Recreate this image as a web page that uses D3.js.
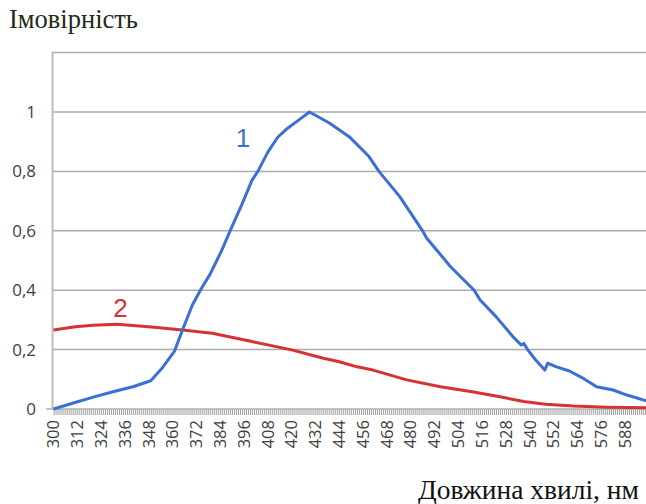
<!DOCTYPE html>
<html>
<head>
<meta charset="utf-8">
<script src="https://cdn.jsdelivr.net/npm/d3@7"></script>
<style>
  body { margin: 0; background: #fff; }
  .ylab, .xlab { font-family: "Open Sans", sans-serif; fill: #404040; }
  .serif { font-family: "Liberation Serif", "Times New Roman", serif; }
</style>
</head>
<body>
<svg id="chart" width="646" height="504"></svg>
<script>
// curve 1 (blue)
var blueNm  = [300, 310, 320, 330, 340, 349, 355, 361, 365, 370, 374, 379, 384.5, 389, 395, 400, 403, 408, 413, 417, 423, 429,
               439, 449, 459, 464, 474.5, 486, 488, 500, 512, 515, 523, 531.6, 535.8, 537, 539, 543, 547.6, 549, 553.5, 560, 567, 573.7, 582, 589, 599];
var blueVal = [0, 0.02, 0.04, 0.058, 0.075, 0.095, 0.14, 0.195, 0.266, 0.35, 0.40, 0.455, 0.53, 0.60, 0.69, 0.77, 0.80, 0.865, 0.915, 0.94, 0.97, 1.0,
               0.963, 0.917, 0.85, 0.80, 0.715, 0.60, 0.576, 0.48, 0.40, 0.367, 0.311, 0.243, 0.215, 0.221, 0.199, 0.165, 0.131, 0.154, 0.142, 0.128, 0.103, 0.075, 0.064, 0.047, 0.027];
// curve 2 (red)
var redNm  = [300, 311, 320, 332, 348, 365, 380, 400, 420, 436, 444, 453, 461, 478, 495, 511, 525, 537, 548, 562, 579, 599];
var redVal = [0.266, 0.277, 0.282, 0.285, 0.277, 0.266, 0.255, 0.227, 0.199, 0.171, 0.159, 0.142, 0.131, 0.098, 0.075, 0.058, 0.041, 0.025, 0.016, 0.01, 0.006, 0.004];

var yTicks = [0, 0.2, 0.4, 0.6, 0.8, 1];
var xLabelTicks = d3.range(300, 600, 12);
var xMinorTicks = d3.range(300, 600, 1);

var svg = d3.select("#chart");
var x = d3.scaleLinear().domain([300, 600]).range([53.5, 648.8]);
var y = d3.scaleLinear().domain([0, 1.2]).range([409, 52.6]);
var fmt = function(d){ return String(d).replace(".", ","); };

// gridlines (incl. top border at 1.2)
svg.append("g").selectAll("line")
    .data(yTicks.slice(1).concat([1.2]))
    .enter().append("line")
    .attr("x1", 52).attr("x2", 646)
    .attr("y1", function(d){ return y(d); })
    .attr("y2", function(d){ return y(d); })
    .attr("stroke", "#ababab")
    .attr("stroke-width", 1.5);

// left axis line
svg.append("line")
    .attr("x1", 52.5).attr("x2", 52.5)
    .attr("y1", y(1.2)).attr("y2", y(0))
    .attr("stroke", "#bdbdbd").attr("stroke-width", 2);

// bottom axis with dense ticks
var xAxis = d3.axisBottom(x).tickValues(xMinorTicks).tickSize(6).tickFormat("");
var gx = svg.append("g").attr("transform", "translate(0," + y(0) + ")").call(xAxis);
gx.select(".domain").remove();
gx.selectAll(".tick line").attr("stroke", "#a0a0a0").attr("stroke-width", 1);
svg.append("line")
    .attr("x1", 46).attr("x2", 646)
    .attr("y1", y(0)).attr("y2", y(0))
    .attr("stroke", "#b0b0b0").attr("stroke-width", 1.5);

// y tick labels
svg.append("g").selectAll("text")
    .data(yTicks)
    .enter().append("text")
    .attr("class", "ylab")
    .attr("x", 36)
    .attr("y", function(d){ return y(d); })
    .attr("dy", "0.35em")
    .attr("text-anchor", "end")
    .attr("font-size", 17)
    .text(fmt);

// x tick labels, rotated
svg.append("g").selectAll("text")
    .data(xLabelTicks)
    .enter().append("text")
    .attr("class", "xlab")
    .attr("transform", function(d){ return "translate(" + x(d) + ",420) rotate(-90)"; })
    .attr("dy", "0.35em")
    .attr("text-anchor", "end")
    .attr("font-size", 16.5)
    .text(function(d){ return d; });

var line = d3.line()
    .x(function(d){ return x(d[0]); })
    .y(function(d){ return y(d[1]); });

svg.append("path")
    .datum(d3.zip(redNm, redVal))
    .attr("d", line)
    .attr("fill", "none")
    .attr("stroke", "#d63232")
    .attr("stroke-width", 3)
    .attr("stroke-linejoin", "round");

svg.append("path")
    .datum(d3.zip(blueNm, blueVal))
    .attr("d", line)
    .attr("fill", "none")
    .attr("stroke", "#3a6fd4")
    .attr("stroke-width", 3)
    .attr("stroke-linejoin", "round");

// curve labels
svg.append("text")
    .attr("x", 243).attr("y", 147)
    .attr("text-anchor", "middle")
    .attr("font-family", "Liberation Sans, Arial, sans-serif")
    .attr("font-size", 26)
    .attr("fill", "#3a6fd4")
    .text("1");
svg.append("text")
    .attr("x", 120.5).attr("y", 317)
    .attr("text-anchor", "middle")
    .attr("font-family", "Liberation Sans, Arial, sans-serif")
    .attr("font-size", 26)
    .attr("fill", "#d63232")
    .text("2");

// axis titles
svg.append("text")
    .attr("class", "serif")
    .attr("x", 9).attr("y", 28)
    .attr("font-size", 26.5)
    .attr("fill", "#1f2a18")
    .text("Імовірність");
svg.append("text")
    .attr("class", "serif")
    .attr("x", 418).attr("y", 499)
    .attr("font-size", 27.5)
    .attr("fill", "#111")
    .text("Довжина хвилі, нм");
</script>
</body>
</html>
